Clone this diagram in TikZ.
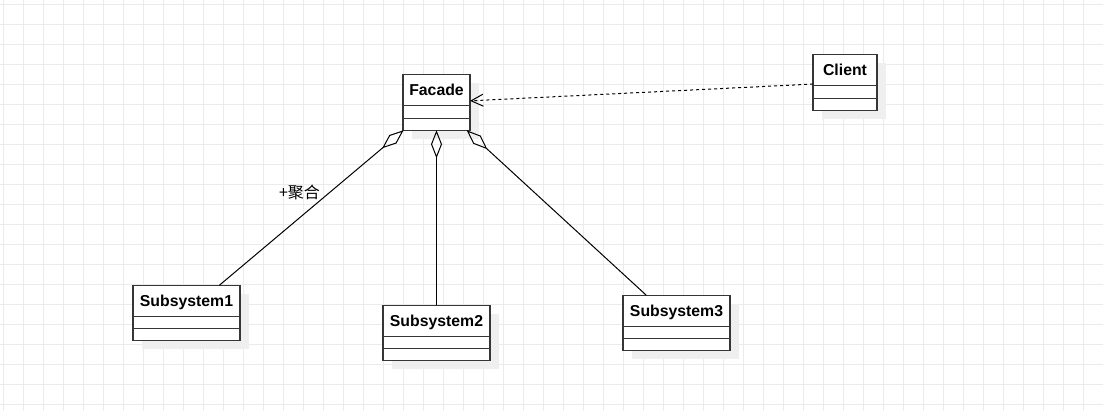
\documentclass[tikz,border=0pt]{standalone}
\usepackage{fontspec}
\setmainfont{Liberation Sans}
\newfontfamily\cjk{Noto Sans CJK SC}
\usetikzlibrary{arrows.meta,shapes,shadows,positioning}

\definecolor{gridline}{HTML}{EBEBEB}
\definecolor{shadowgray}{HTML}{EFEFEF}
\definecolor{boxline}{HTML}{363636}

\begin{document}
\begin{tikzpicture}[x=1pt, y=1pt,
		umlclass/.style={rectangle, draw=boxline, line width=1.1pt, fill=white,
			minimum width=107pt, inner xsep=0pt, inner ysep=0pt, outer sep=0pt,
			text height=21pt, text depth=34.5pt,
			font=\fontsize{15.8}{19}\selectfont\bfseries,
			drop shadow={shadow xshift=8.5pt, shadow yshift=-8.5pt, fill=shadowgray, opacity=1},
			path picture={
				\draw[boxline, line width=1.1pt] ([yshift=-31pt]path picture bounding box.north west) -- ([yshift=-31pt]path picture bounding box.north east);
				\draw[boxline, line width=1.1pt] ([yshift=-43.5pt]path picture bounding box.north west) -- ([yshift=-43.5pt]path picture bounding box.north east);
			}},
		aggregation/.style={line width=1pt, -{Diamond[open, length=28pt, width=11pt]}},
		dependency/.style={line width=1pt, dash pattern=on 3pt off 3pt, -{Straight Barb[length=12pt, width=12pt]}}]
		% Define grid
		\fill[white] (0,0) rectangle (1103,-411);
		\useasboundingbox (0,0) rectangle (1103,-411);
		\foreach \gx in {3,23,...,1103}
			\draw[gridline, line width=1pt] (\gx,0) -- (\gx,-411);
		\foreach \gy in {5,25,...,405}
			\draw[gridline, line width=1pt] (0,-\gy) -- (1103,-\gy);
		
		% Define classes
		\node[umlclass, minimum width=67pt] (Facade) at (436.5,-102.5) {Facade};
		\node[umlclass, minimum width=64pt, right=343pt of Facade, yshift=20pt] (Client) {Client};
		\node[umlclass, below left=155pt and 163pt of Facade] (Subsystem1) {Subsystem1};
		\node[umlclass, below=175pt of Facade] (Subsystem2) {Subsystem2};
		\node[umlclass, below right=165pt and 153pt of Facade] (Subsystem3) {Subsystem3};
		
		% Define relations
		\path 
		(Client) edge[dependency] (Facade)
		(Subsystem1) edge[aggregation] node[pos=0.6, left=9.5pt, inner sep=0pt, font=\cjk\fontsize{16}{18}\selectfont] {+聚合} (Facade)
		(Subsystem2) edge[aggregation] (Facade)
		(Subsystem3) edge[aggregation] (Facade);
	\end{tikzpicture}
\end{document}
